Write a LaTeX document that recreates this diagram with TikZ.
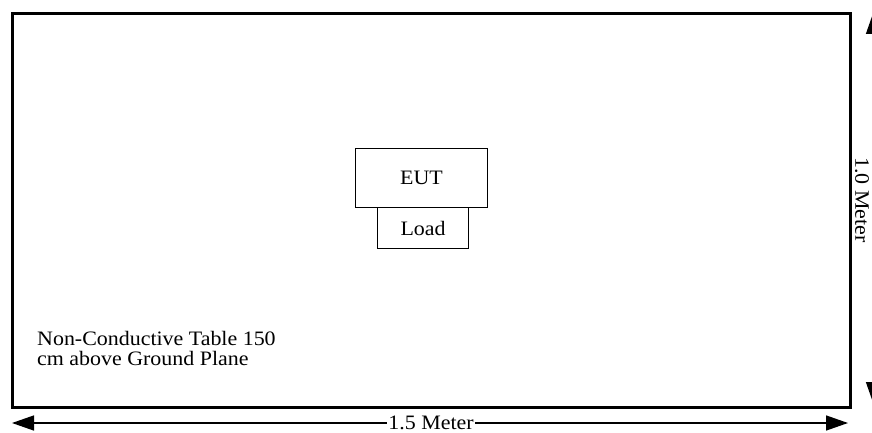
\documentclass[tikz,border=0pt]{standalone}
\usepackage{fontspec}
\setmainfont{Liberation Serif}
\usetikzlibrary{arrows.meta}
\newcommand{\wtxt}[1]{\scalebox{1.07}[1]{#1}}
\begin{document}
\begin{tikzpicture}[x=1pt,y=-1pt,
  lbl/.style={font=\fontsize{20.5}{19}\selectfont, inner sep=0pt},
  box/.style={draw, line width=1.1pt, inner sep=0pt, font=\fontsize{20.5}{19}\selectfont},
  dim/.style={line width=1.4pt, {Triangle[length=22pt,width=15pt]}-{Triangle[length=22pt,width=15pt]}}]
\useasboundingbox (0,0) rectangle (872,433);
\fill[white] (0,0) rectangle (872,433);
\begin{scope}
\clip (0,0) rectangle (872,433);
\node[draw, line width=3pt, minimum width=838pt, minimum height=394pt, anchor=north west, inner sep=0pt] (table) at (11,12) {};
\node[box, minimum width=132pt, minimum height=59pt, anchor=north west] (eut) at (355,148) {\wtxt{EUT}};
\node[box, minimum width=91pt, minimum height=41pt, anchor=north west] (load) at (377,207) {\wtxt{Load}};
\node[lbl, anchor=north west, align=left] (note) at (37,331) {\wtxt{\begin{tabular}{@{}l@{}}Non-Conductive Table 150\\ cm above Ground Plane\end{tabular}}};
\coordinate (bl) at (12,423);
\coordinate (br) at (848,423);
\draw[dim] (bl) -- (br);
\node[lbl, fill=white, inner xsep=1pt] (wlab) at (431,423) {\wtxt{1.5 Meter}};
\coordinate (vt) at (873.5,12);
\coordinate (vb) at (873.5,404);
\draw[dim] (vt) -- (vb);
\node[lbl, rotate=-90, inner xsep=1pt] (hlab) at (862,200) {\wtxt{1.0 Meter}};
\end{scope}
\end{tikzpicture}
\end{document}
